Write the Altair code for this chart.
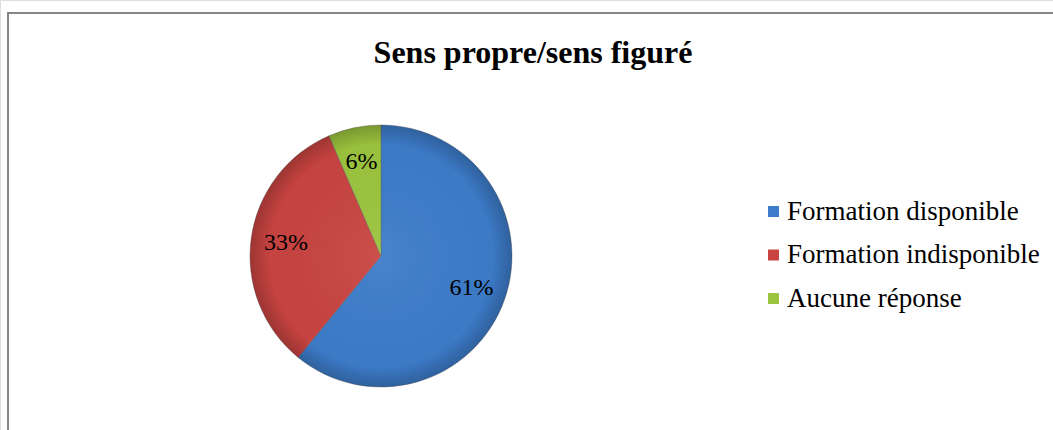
import altair as alt
import pandas as pd

title_text = "Sens propre/sens figuré"
categories = ["Formation disponible", "Formation indisponible", "Aucune réponse"]
values = [60.9, 32.6, 6.5]
labels = ["61%", "33%", "6%"]
colors = ["#3d7cca", "#c94441", "#9cc43e"]

df = pd.DataFrame({
    "cat": categories,
    "val": values,
    "lab": labels,
    "ord": list(range(len(categories))),
})

CX, CY, R = 381, 256, 131
SERIF = "Liberation Serif"

base = alt.Chart(df).encode(
    theta=alt.Theta("val:Q", stack=True),
    order=alt.Order("ord:Q"),
    x=alt.value(CX),
    y=alt.value(CY),
)

pie = base.mark_arc(radius=R, stroke="#5a5a5a", strokeWidth=0.4).encode(
    color=alt.Color(
        "cat:N",
        sort=categories,
        scale=alt.Scale(domain=categories, range=colors),
        title=None,
        legend=alt.Legend(
            orient="none",
            legendX=760,
            legendY=198,
            symbolType="square",
            symbolSize=121,
            symbolStrokeWidth=0,
            labelFont=SERIF,
            labelFontSize=27,
            labelColor="#000000",
            labelLimit=400,
            labelOffset=0,
            rowPadding=15.5,
        ),
    )
)

shade = alt.Chart(pd.DataFrame({"k": [1]})).mark_arc(
    radius=R,
    theta=0,
    theta2=6.2832,
    fill={
        "gradient": "radial",
        "x1": 0.5, "y1": 0.5, "r1": 0,
        "x2": 0.5, "y2": 0.5, "r2": 0.5,
        "stops": [
            {"offset": 0, "color": "rgba(255,255,255,0.06)"},
            {"offset": 0.85, "color": "rgba(0,0,0,0.02)"},
            {"offset": 1, "color": "rgba(0,0,0,0.22)"},
        ],
    },
).encode(x=alt.value(CX), y=alt.value(CY))

text = base.mark_text(
    radius=96, font=SERIF, fontSize=24, color="#000000"
).encode(text="lab:N")

title = alt.Chart(pd.DataFrame({"t": [title_text]})).mark_text(
    font=SERIF, fontSize=32, fontWeight="bold", color="#000000", baseline="alphabetic"
).encode(text="t:N", x=alt.value(533), y=alt.value(63))

frame_top = alt.Chart(pd.DataFrame({"k": [1]})).mark_rule(
    color="#868686", strokeWidth=2
).encode(x=alt.value(8), x2=alt.value(1053), y=alt.value(13))

frame_left = alt.Chart(pd.DataFrame({"k": [1]})).mark_rule(
    color="#868686", strokeWidth=2
).encode(x=alt.value(8), y=alt.value(12), y2=alt.value(430))

chart = alt.layer(pie, shade, text, title, frame_top, frame_left).properties(
    width=1053,
    height=430,
    padding=0,
    autosize=alt.AutoSizeParams(type="none"),
).configure_view(stroke=None).configure(background="white")

chart.save("out.html", embed_options={"renderer": "svg", "actions": False})
